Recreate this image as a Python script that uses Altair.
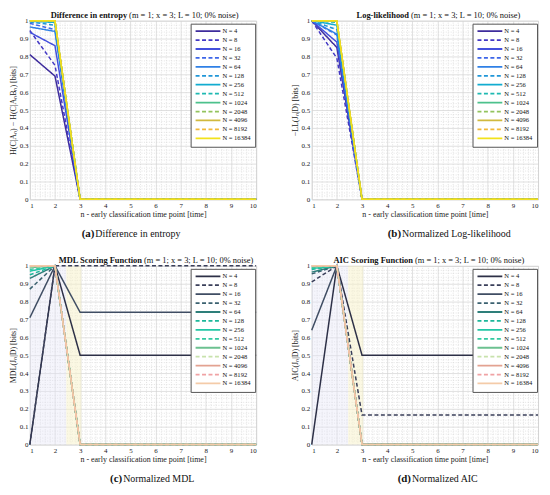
import altair as alt
import pandas as pd
import numpy as np

# ---------------- data ----------------
x_points = [1, 2, 3, 4, 5, 6, 7, 8, 9, 10]
N_values = [4, 8, 16, 32, 64, 128, 256, 512, 1024, 2048, 4096, 8192, 16384]
N_labels = [str(n) for n in N_values]
dashed = [False, True, False, True, False, True, False, True, False, True, False, True, False]

# (a) difference in entropy, one row per N
entropy_vals = [
    [0.81, 0.69, 0, 0, 0, 0, 0, 0, 0, 0],
    [0.945, 0.75, 0, 0, 0, 0, 0, 0, 0, 0],
    [0.935, 0.86, 0, 0, 0, 0, 0, 0, 0, 0],
    [0.985, 0.95, 0, 0, 0, 0, 0, 0, 0, 0],
    [0.965, 0.94, 0, 0, 0, 0, 0, 0, 0, 0],
    [0.993, 0.975, 0, 0, 0, 0, 0, 0, 0, 0],
    [0.997, 0.99, 0, 0, 0, 0, 0, 0, 0, 0],
    [0.999, 0.995, 0, 0, 0, 0, 0, 0, 0, 0],
    [1.0, 0.998, 0, 0, 0, 0, 0, 0, 0, 0],
    [1.0, 1.0, 0, 0, 0, 0, 0, 0, 0, 0],
    [1.0, 1.0, 0, 0, 0, 0, 0, 0, 0, 0],
    [1.0, 1.0, 0, 0, 0, 0, 0, 0, 0, 0],
    [1.0, 1.0, 0, 0, 0, 0, 0, 0, 0, 0],
]
# (b) normalized log-likelihood
loglik_vals = [
    [1.0, 0.85, 0, 0, 0, 0, 0, 0, 0, 0],
    [1.0, 0.79, 0, 0, 0, 0, 0, 0, 0, 0],
    [1.0, 0.88, 0, 0, 0, 0, 0, 0, 0, 0],
    [1.0, 0.92, 0, 0, 0, 0, 0, 0, 0, 0],
    [1.0, 0.925, 0, 0, 0, 0, 0, 0, 0, 0],
    [1.0, 0.95, 0, 0, 0, 0, 0, 0, 0, 0],
    [1.0, 0.975, 0, 0, 0, 0, 0, 0, 0, 0],
    [1.0, 0.99, 0, 0, 0, 0, 0, 0, 0, 0],
    [1.0, 0.997, 0, 0, 0, 0, 0, 0, 0, 0],
    [1.0, 1.0, 0, 0, 0, 0, 0, 0, 0, 0],
    [1.0, 1.0, 0, 0, 0, 0, 0, 0, 0, 0],
    [1.0, 1.0, 0, 0, 0, 0, 0, 0, 0, 0],
    [1.0, 1.0, 0, 0, 0, 0, 0, 0, 0, 0],
]
# (c) normalized MDL
mdl_vals = [
    [0.0, 1.0, 0.5, 0.5, 0.5, 0.5, 0.5, 0.5, 0.5, 0.5],
    [0.0, 1.0, 1.0, 1.0, 1.0, 1.0, 1.0, 1.0, 1.0, 1.0],
    [0.71, 1.0, 0.74, 0.74, 0.74, 0.74, 0.74, 0.74, 0.74, 0.74],
    [0.87, 1.0, 0, 0, 0, 0, 0, 0, 0, 0],
    [0.93, 1.0, 0, 0, 0, 0, 0, 0, 0, 0],
    [0.95, 1.0, 0, 0, 0, 0, 0, 0, 0, 0],
    [0.97, 1.0, 0, 0, 0, 0, 0, 0, 0, 0],
    [0.98, 1.0, 0, 0, 0, 0, 0, 0, 0, 0],
    [0.99, 1.0, 0, 0, 0, 0, 0, 0, 0, 0],
    [0.995, 1.0, 0, 0, 0, 0, 0, 0, 0, 0],
    [1.0, 1.0, 0, 0, 0, 0, 0, 0, 0, 0],
    [1.0, 1.0, 0, 0, 0, 0, 0, 0, 0, 0],
    [1.0, 1.0, 0, 0, 0, 0, 0, 0, 0, 0],
]
# (d) normalized AIC
aic_vals = [
    [0.0, 1.0, 0.5, 0.5, 0.5, 0.5, 0.5, 0.5, 0.5, 0.5],
    [0.91, 1.0, 0.165, 0.165, 0.165, 0.165, 0.165, 0.165, 0.165, 0.165],
    [0.64, 1.0, 0, 0, 0, 0, 0, 0, 0, 0],
    [0.955, 1.0, 0, 0, 0, 0, 0, 0, 0, 0],
    [0.965, 1.0, 0, 0, 0, 0, 0, 0, 0, 0],
    [0.98, 1.0, 0, 0, 0, 0, 0, 0, 0, 0],
    [0.985, 1.0, 0, 0, 0, 0, 0, 0, 0, 0],
    [0.99, 1.0, 0, 0, 0, 0, 0, 0, 0, 0],
    [0.995, 1.0, 0, 0, 0, 0, 0, 0, 0, 0],
    [1.0, 1.0, 0, 0, 0, 0, 0, 0, 0, 0],
    [1.0, 1.0, 0, 0, 0, 0, 0, 0, 0, 0],
    [1.0, 1.0, 0, 0, 0, 0, 0, 0, 0, 0],
    [1.0, 1.0, 0, 0, 0, 0, 0, 0, 0, 0],
]

parula_colors = ["#3e2c9c", "#4338c4", "#4450dc", "#3d66e8", "#2f80e6", "#2096d8",
                 "#12acd0", "#1fb9b2", "#4cc18c", "#93c35e", "#d0b93e", "#f1b93a", "#f2e21c"]
score_colors = ["#2d3047", "#3a3f5a", "#3f4d63", "#3b6170", "#2e7f7a", "#1db79a",
                "#22c6a5", "#33c9a1", "#6cc190", "#c8e2ac", "#e3a291", "#f0a2a4", "#f4cba8"]

# faint background shading of panels (c) and (d), in x data units
shade_blue = [1.0, 2.45]
shade_yellow = [2.45, 3.05]

x_major = x_points
y_major = [0, 0.1, 0.2, 0.3, 0.4, 0.5, 0.6, 0.7, 0.8, 0.9, 1]

# ---------------- helpers ----------------
W, H = 228, 180
FONT = "Liberation Serif"

x_minor = [round(1 + 0.2 * i, 1) for i in range(46) if i % 5 != 0]
y_minor = [round(0.02 * i, 2) for i in range(51) if i % 5 != 0]


def make_df(vals):
    rows = []
    for lab, ys in zip(N_labels, vals):
        for xv, yv in zip(x_points, ys):
            rows.append({"N": lab, "x": xv, "y": yv})
    return pd.DataFrame(rows)


def panel(vals, colors, ylab, t_bold, t_rest, t_split, c_letter, c_text, c_split, shade=False):
    df = make_df(vals)
    xs = alt.Scale(domain=[1, 10], nice=False, zero=False)
    ys = alt.Scale(domain=[0, 1], nice=False, zero=False)

    minor = alt.Chart(df).mark_point(opacity=0).encode(
        x=alt.X("x:Q", scale=xs, axis=alt.Axis(values=x_minor, grid=True, gridDash=[1, 1.5],
                                               gridColor="#cfcfcf", gridWidth=0.6, labels=False,
                                               ticks=False, domain=False, title=None, orient="top")),
        y=alt.Y("y:Q", scale=ys, axis=alt.Axis(values=y_minor, grid=True, gridDash=[1, 1.5],
                                               gridColor="#cfcfcf", gridWidth=0.6, labels=False,
                                               ticks=False, domain=False, title=None, orient="right")),
    )

    layers = [minor]
    if shade:
        b = alt.Chart(pd.DataFrame({"x0": [shade_blue[0]], "x1": [shade_blue[1]]})).mark_rect(
            fill="#e6e6f7", opacity=0.4).encode(
            x=alt.X("x0:Q", scale=xs, axis=None), x2="x1:Q", y=alt.value(0), y2=alt.value(H))
        yv = alt.Chart(pd.DataFrame({"x0": [shade_yellow[0]], "x1": [shade_yellow[1]]})).mark_rect(
            fill="#f8f2c8", opacity=0.5).encode(
            x=alt.X("x0:Q", scale=xs, axis=None), x2="x1:Q", y=alt.value(0), y2=alt.value(H))
        layers += [b, yv]

    leg = alt.Legend(
        title=None, orient="none", legendX=W - 66, legendY=3,
        labelExpr="'N = ' + datum.label", labelFont=FONT, labelFontSize=6.6, labelColor="#111",
        symbolType="M-1,0H9", symbolSize=25, symbolStrokeWidth=1.8, labelOffset=21,
        rowPadding=0, padding=4, fillColor="white", strokeColor="#555", cornerRadius=0,
    )
    dash_range = [[4, 2.5] if d else [1, 0] for d in dashed]

    lines = alt.Chart(df).mark_line(strokeWidth=1.5, clip=False).encode(
        x=alt.X("x:Q", scale=xs, axis=alt.Axis(
            values=x_major, grid=True, gridColor="#d2d2d2", gridWidth=0.7, domain=False, ticks=False,
            labelFont=FONT, labelFontSize=7, labelColor="#222", labelPadding=2,
            title="n - early classification time point [time]", titleFont=FONT, titleFontSize=8,
            titleFontWeight="normal", titleColor="#222", titlePadding=2, orient="bottom")),
        y=alt.Y("y:Q", scale=ys, axis=alt.Axis(
            values=y_major, format="~g", grid=True, gridColor="#d2d2d2", gridWidth=0.7, domain=False,
            ticks=False, labelFont=FONT, labelFontSize=7, labelColor="#222", labelPadding=2,
            title=ylab, titleFont=FONT, titleFontSize=8, titleFontWeight="normal", titleColor="#222",
            titlePadding=2, orient="left")),
        color=alt.Color("N:N", scale=alt.Scale(domain=N_labels, range=colors), legend=leg),
        strokeDash=alt.StrokeDash("N:N", scale=alt.Scale(domain=N_labels, range=dash_range), legend=leg),
        order=alt.Order("x:Q"),
    )
    layers.append(lines)

    def txt(s, x, y, size, weight, align, style="normal"):
        return alt.Chart(pd.DataFrame({"t": [s]})).mark_text(
            font=FONT, fontSize=size, fontWeight=weight, align=align, baseline="middle",
            color="#111", fontStyle=style).encode(text="t:N", x=alt.value(x), y=alt.value(y))

    layers += [
        txt(t_bold, t_split, -6, 8.5, "bold", "right"),
        txt(t_rest, t_split + 2, -6, 8.5, "normal", "left"),
        txt(c_letter, c_split, H + 35, 11, "bold", "right"),
        txt(c_text, c_split + 1, H + 35, 10, "normal", "left"),
    ]
    return alt.layer(*layers).resolve_axis(x="independent", y="independent").properties(width=W, height=H)


params = "(m = 1; x = 3; L = 10; 0% noise)"
pa = panel(entropy_vals, parula_colors, "H(C|Aₙ) − H(C|AₙBₙ) [bits]",
           "Difference in entropy", params, 98, "(a)", "Difference in entropy", 65)
pb = panel(loglik_vals, parula_colors, "−LL(Jₙ|D) [bits]",
           "Log-likelihood", params, 98, "(b)", "Normalized Log-likelihood", 90)
pc = panel(mdl_vals, score_colors, "MDL(Jₙ|D) [bits]",
           "MDL Scoring Function", params, 113, "(c)", "Normalized MDL", 93, shade=True)
pd_ = panel(aic_vals, score_colors, "AIC(Jₙ|D) [bits]",
            "AIC Scoring Function", params, 102, "(d)", "Normalized AIC", 100, shade=True)

row1 = alt.hconcat(pa, pb, spacing=30).resolve_scale(color="independent", strokeDash="independent").resolve_legend(color="independent", strokeDash="independent")
row2 = alt.hconcat(pc, pd_, spacing=30).resolve_scale(color="independent", strokeDash="independent").resolve_legend(color="independent", strokeDash="independent")

chart = alt.vconcat(row1, row2, spacing=15).resolve_scale(
    color="independent", strokeDash="independent").resolve_legend(
    color="independent", strokeDash="independent").properties(
    padding={"left": 0, "top": 0, "right": 0, "bottom": 0}
).configure_view(stroke="#6f6f6f", strokeWidth=1).configure(background="white")

chart.save("out.html", embed_options={"renderer": "svg", "actions": False})
